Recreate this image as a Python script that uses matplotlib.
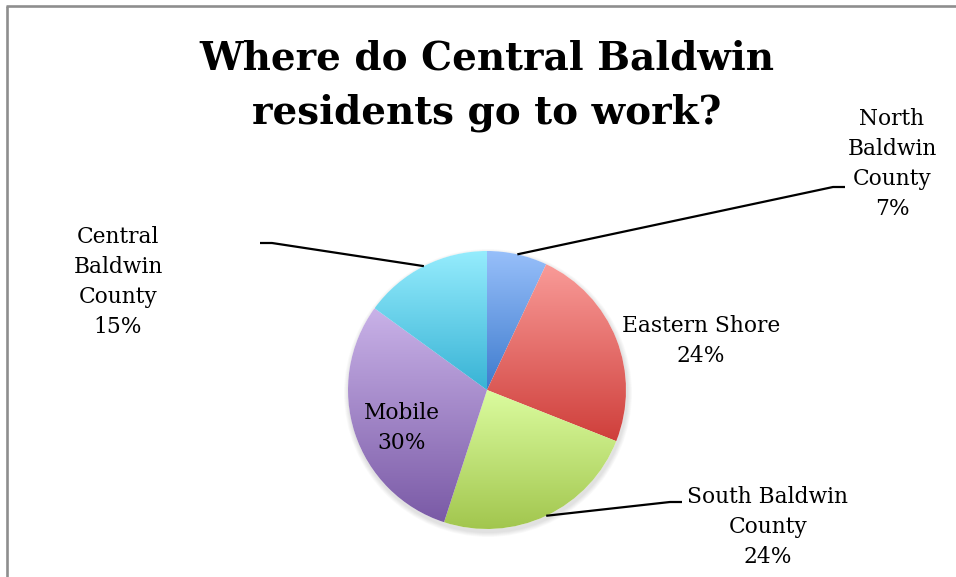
import numpy as np
import matplotlib
matplotlib.use("Agg")
import matplotlib.pyplot as plt
from matplotlib.colors import to_rgb

# ---- data ----
categories = ["North\nBaldwin\nCounty", "Eastern Shore", "South Baldwin\nCounty", "Mobile", "Central\nBaldwin\nCounty"]
values = [7, 24, 24, 30, 15]
top_colors = ["#97BFFA", "#F99B98", "#DBFC9F", "#C9B2E8", "#95ECFD"]
bottom_colors = ["#3E7BCD", "#CF3F3B", "#A2C64E", "#7A5AA6", "#38B3D5"]
title = "Where do Central Baldwin\nresidents go to work?"

# ---- layout (pixel coords, y downwards) ----
W, H = 956, 577
center = (487, 390)
radius = 139
label_pos = [(892, 164), (701, 341), (768, 527), (402, 428), (118, 282)]
leaders = {0: [(833, 187), (845, 187)],
           2: [(670, 502), (682, 502)],
           4: [(272, 243), (260, 243)]}

fig = plt.figure(figsize=(W / 100, H / 100), dpi=100)
ax = fig.add_axes([0, 0, 1, 1])

wedges, _ = ax.pie(values, center=center, radius=radius, startangle=-90,
                   counterclock=True, frame=True,
                   wedgeprops=dict(facecolor="none", edgecolor="none", linewidth=0))

# soft shadow
for k in range(6):
    c = plt.Circle((center[0] + 1, center[1] + 3), radius + 1 + k * 0.8,
                   facecolor="black", edgecolor="none", alpha=0.02, zorder=0)
    ax.add_patch(c)
ax.add_patch(plt.Circle(center, radius, facecolor="white", edgecolor="none", zorder=0.5))

# gradient fills
for i, w in enumerate(wedges):
    ext = w.get_path().get_extents()
    x0, y0, x1, y1 = ext.x0, ext.y0, ext.x1, ext.y1
    n = 256
    t = np.linspace(0, 1, n)[:, None, None]
    c0 = np.array(to_rgb(top_colors[i]))[None, None, :]
    c1 = np.array(to_rgb(bottom_colors[i]))[None, None, :]
    img = c0 * (1 - t) + c1 * t
    img = np.repeat(img, 2, axis=1)
    im = ax.imshow(img, extent=(x0, x1, y1, y0), origin="upper",
                   interpolation="bilinear", zorder=1, aspect="auto")
    im.set_clip_path(w)

# labels
for i, (cat, v) in enumerate(zip(categories, values)):
    ax.text(label_pos[i][0], label_pos[i][1], f"{cat}\n{v}%", ha="center", va="center",
            fontsize=15.7, family="DejaVu Serif", linespacing=1.49, color="black", zorder=3)

# leader lines
for i, pts in leaders.items():
    w = wedges[i]
    mid = np.deg2rad((w.theta1 + w.theta2) / 2)
    sx = center[0] + radius * np.cos(mid)
    sy = center[1] + radius * np.sin(mid)
    xs = [sx] + [p[0] for p in pts]
    ys = [sy] + [p[1] for p in pts]
    ax.plot(xs, ys, color="black", lw=1.6, zorder=2, solid_capstyle="butt")

# title
ax.text(487, 86, title, ha="center", va="center", fontsize=28,
        family="DejaVu Serif", fontweight="bold", linespacing=1.55, zorder=3)

# frame (left & top)
ax.plot([7, 7], [H, 6], color="#8E8E8E", lw=1.9, zorder=4, solid_capstyle="butt")
ax.plot([6, W], [6, 6], color="#8E8E8E", lw=1.9, zorder=4, solid_capstyle="butt")

ax.set_xlim(0, W)
ax.set_ylim(H, 0)
ax.set_aspect("equal")
ax.axis("off")
fig.savefig("out.png", dpi=100)
